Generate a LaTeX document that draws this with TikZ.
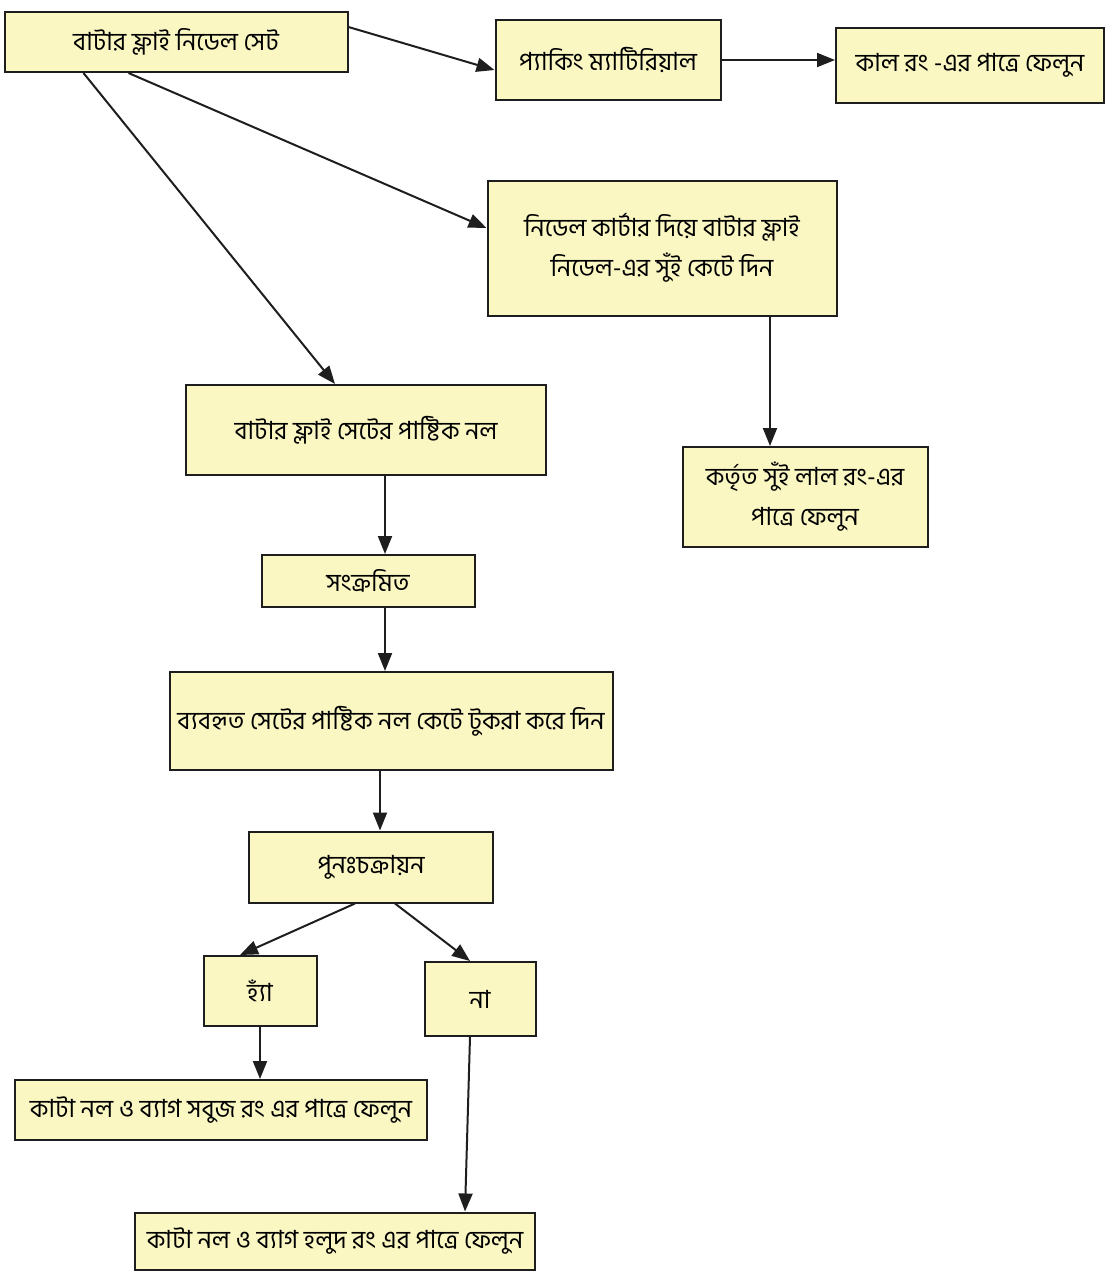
\documentclass[tikz,border=0pt]{standalone}
\usepackage{fontspec}
\usepackage{tikz}
\usetikzlibrary{arrows.meta}
\newfontfamily\bengalifont[Script=Bengali]{Hind Siliguri}
\definecolor{PaleYellow}{HTML}{FAF7C3}
\definecolor{LineGray}{HTML}{1E1E1E}

\begin{document}
\begin{tikzpicture}[
  x=0.5pt, y=-0.5pt,
  box/.style={rectangle, draw=LineGray, line width=1pt, fill=PaleYellow, inner sep=2pt, align=center, font=\bengalifont\fontsize{12.5}{20}\selectfont},
  arrow/.style={-{Triangle[length=9pt, width=7pt]}, line width=1pt, LineGray}
]
\useasboundingbox (0,0) rectangle (1111,1281);

\node[box, minimum width=171.5pt, minimum height=30pt] (needle_set) at (176,42) {বাটার ফ্লাই নিডেল সেট};
\node[box, minimum width=112.5pt, minimum height=40pt] (packing) at (608,60) {প্যাকিং ম্যাটিরিয়াল};
\node[box, minimum width=134pt, minimum height=37.5pt] (black_bin) at (970,65) {কাল রং -এর পাত্রে ফেলুন};
\node[box, minimum width=174.5pt, minimum height=67.5pt] (cutter) at (662,248) {নিডেল কার্টার দিয়ে বাটার ফ্লাই\\নিডেল-এর সুঁই কেটে দিন};
\node[box, minimum width=180pt, minimum height=45pt] (tube) at (366,430) {বাটার ফ্লাই সেটের পাষ্টিক নল};
\node[box, minimum width=122.5pt, minimum height=50pt] (red_bin) at (805,497) {কর্তৃত সুঁই লাল রং-এর\\পাত্রে ফেলুন};
\node[box, minimum width=106.5pt, minimum height=26pt] (infected) at (368,581) {সংক্রমিত};
\node[box, minimum width=221.5pt, minimum height=49pt] (cut_tube) at (391,721) {ব্যবহৃত সেটের পাষ্টিক নল কেটে টুকরা করে দিন};
\node[box, minimum width=122pt, minimum height=35.5pt] (recycle) at (371,867) {পুনঃচক্রায়ন};
\node[box, minimum width=56.5pt, minimum height=35pt] (yes) at (260,991) {হ্যাঁ};
\node[box, minimum width=55.5pt, minimum height=37pt] (no) at (480,999) {না};
\node[box, minimum width=206pt, minimum height=30pt] (green_bin) at (221,1110) {কাটা নল ও ব্যাগ সবুজ রং এর পাত্রে ফেলুন};
\node[box, minimum width=200pt, minimum height=28.5pt] (yellow_bin) at (335,1241) {কাটা নল ও ব্যাগ হলুদ রং এর পাত্রে ফেলুন};

\draw[arrow] ([yshift=-8pt]needle_set.north east) -- ([yshift=-5pt]packing.west);
\draw[arrow] (packing.east) -- (packing.east -| black_bin.west);
\draw[arrow] ([xshift=62.5pt]needle_set.south west) -- ([yshift=10pt]cutter.west);
\draw[arrow] ([xshift=40pt]needle_set.south west) -- ([xshift=-15.5pt]tube.north);
\draw[arrow] ([xshift=54pt]cutter.south) -- ([xshift=54pt]cutter.south |- red_bin.north);
\draw[arrow] ([xshift=9.5pt]tube.south) -- ([xshift=9.5pt]tube.south |- infected.north);
\draw[arrow] ([xshift=8.5pt]infected.south) -- ([xshift=8.5pt]infected.south |- cut_tube.north);
\draw[arrow] ([xshift=-5.5pt]cut_tube.south) -- ([xshift=-5.5pt]cut_tube.south |- recycle.north);
\draw[arrow] ([xshift=-8pt]recycle.south) -- ([xshift=-10pt]yes.north);
\draw[arrow] ([xshift=12pt]recycle.south) -- ([xshift=-5pt]no.north);
\draw[arrow] (yes.south) -- (yes.south |- green_bin.north);
\draw[arrow] ([xshift=-5pt]no.south) -- ([xshift=65pt]yellow_bin.north);

\end{tikzpicture}
\end{document}
